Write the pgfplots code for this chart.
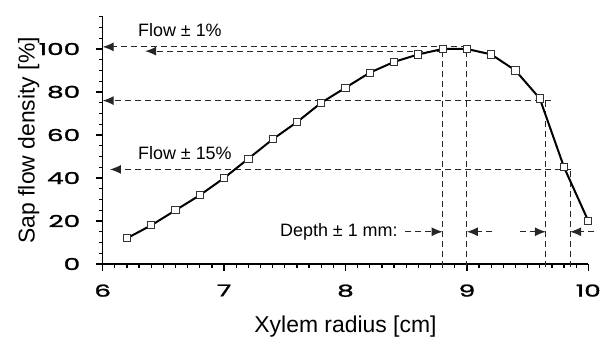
\documentclass[border=0pt]{standalone}
\usepackage{fontspec}
\setmainfont{Liberation Sans}
\newfontfamily\tickfont[FakeBold=1.3]{Poppins}
\usepackage{graphicx}
\usepackage{pgfplots}
\pgfplotsset{compat=1.18}
\usetikzlibrary{arrows.meta}
\tikzset{
  guide/.style={dash pattern=on 6bp off 4bp, line width=1bp, black!85},
  tip/.style={-{Latex[length=11bp,width=9bp]}},
}
\newcommand\tk[1]{{\tickfont\fontsize{16.5}{16.5}\selectfont\scalebox{1.6}[1]{#1}}}
\begin{document}
\begin{tikzpicture}[x=1bp,y=1bp]
\path[use as bounding box] (-102.7,-75) rectangle (504.3,264);
\begin{axis}[
  at={(0,0)}, anchor=south west,
  scale only axis, width=485.6bp, height=247.25bp,
  xmin=6, xmax=10, ymin=0, ymax=115,
  axis lines=left, axis line style={-, line width=1.5bp, black},
  tick align=outside,
  xtick={6,7,8,9,10}, ytick={0,20,40,60,80,100},
  minor xtick={6,6.1,...,10}, minor ytick={0,5,...,115},
  major tick length=7bp, minor tick length=4bp,
  every tick/.style={line width=1.3bp, black},
  /pgf/number format/assume math mode=true,
  xticklabel={\tk{\pgfmathprintnumber{\tick}}},
  yticklabel={\tk{\pgfmathprintnumber{\tick}}},
  xticklabel style={yshift=-10bp},
  yticklabel style={xshift=-12bp},
  xlabel={Xylem radius [cm]}, ylabel={Sap flow density [\%]},
  label style={font=\fontsize{23}{27}\selectfont},
  xlabel style={at={(axis description cs:0.5,0)}, anchor=base, yshift=-68bp},
  ylabel style={at={(axis description cs:0,0.5)}, anchor=base, yshift=68bp},
  clip=false,
]
% guide lines
\draw[guide, tip] (axis cs:9.0,101) -- (axis cs:6,101);
\draw[guide, tip] (axis cs:8.8,99) -- (axis cs:6.35,99);
\draw[guide, tip] (axis cs:9.69,76) -- (axis cs:6,76);
\draw[guide, tip] (axis cs:9.86,44) -- (axis cs:6.06,44);
\draw[guide] (axis cs:8.8,-1.5) -- (axis cs:8.8,99);
\draw[guide] (axis cs:9.0,-1.5) -- (axis cs:9.0,101);
\draw[guide] (axis cs:9.65,-1.5) -- (axis cs:9.65,76);
\draw[guide] (axis cs:9.85,-1.5) -- (axis cs:9.85,44);
% depth arrows
\draw[guide, tip] (axis cs:8.49,15) -- (axis cs:8.8,15);
\draw[guide, tip] (axis cs:9.21,15) -- (axis cs:9.0,15);
\draw[guide, tip] (axis cs:9.44,15) -- (axis cs:9.65,15);
\draw[guide, tip] (axis cs:10.05,15) -- (axis cs:9.85,15);
% texts
\node[anchor=west, inner sep=0pt, font=\fontsize{18}{21}\selectfont] at (axis cs:6.29,108.8) {Flow ± 1\%};
\node[anchor=west, inner sep=0pt, font=\fontsize{18}{21}\selectfont] at (axis cs:6.29,51.6) {Flow ± 15\%};
\node[anchor=west, inner sep=0pt, font=\fontsize{18}{21}\selectfont] at (axis cs:7.46,15) {Depth ± 1 mm:};
\addplot[black, line width=2bp, mark=square*, mark size=3.6bp,
  mark options={fill=white, draw=black!80, line width=0.9bp, solid}] coordinates {
(6.2,12) (6.4,18) (6.6,25) (6.8,32) (7.0,40) (7.2,49) (7.4,58) (7.6,66)
(7.8,75) (8.0,82) (8.2,89) (8.4,94) (8.6,97.5) (8.8,100) (9.0,100)
(9.2,97.5) (9.4,90) (9.6,77) (9.8,45) (10.0,20)
};
\end{axis}
\end{tikzpicture}
\end{document}
